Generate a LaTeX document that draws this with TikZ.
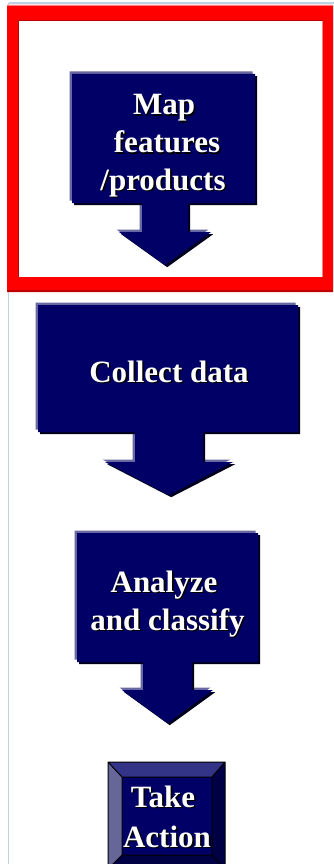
\documentclass[tikz,border=0pt]{standalone}
\usepackage{fontspec}
\setmainfont{Liberation Serif}
\begin{document}
\definecolor{navy}{HTML}{000066}
\definecolor{navylight}{HTML}{6868A2}
\definecolor{navydark}{HTML}{00001E}
\definecolor{bevtop}{HTML}{333388}
\definecolor{bevleft}{HTML}{666699}
\definecolor{bevdark}{HTML}{000044}
\definecolor{frame}{HTML}{FF0000}
\definecolor{framedark}{HTML}{C00000}
\definecolor{framelight}{HTML}{FF8080}
\definecolor{rule}{HTML}{BCD0E6}
% arrow outline: box (#1,#2)-(#3,#4), axis x #5, stem half width #6,
% head half width #7, head top #8, tip #9
\newcommand\boxarrowpath[9]{(#1,#2) -- (#3,#2) -- (#3,#4) -- ({#5+#6},#4) -- ({#5+#6},#8)
  -- ({#5+#7},#8) -- (#5,#9) -- ({#5-#7},#8) -- ({#5-#6},#8) -- ({#5-#6},#4) -- (#1,#4) -- cycle}
\newcommand\boxarrow[9]{%
  \fill[navylight, shift={(-2.5,-2.5)}] \boxarrowpath{#1}{#2}{#3}{#4}{#5}{#6}{#7}{#8}{#9};
  \fill[navydark, shift={(2.2,2.2)}] \boxarrowpath{#1}{#2}{#3}{#4}{#5}{#6}{#7}{#8}{#9};
  \fill[navy] \boxarrowpath{#1}{#2}{#3}{#4}{#5}{#6}{#7}{#8}{#9};}
% white bold label line with a black drop shadow
\newcommand\shline[4]{%
  \node[lbl, black] (#1-sh) at ({#2+1.6},{#3+1.6}) {#4};
  \node[lbl, white] (#1) at (#2,#3) {#4};}
\begin{tikzpicture}[x=1pt, y=-1pt,
  lbl/.style={anchor=base, inner sep=0pt, font=\bfseries\fontsize{31}{37.5}\selectfont}]
\useasboundingbox (0,0) rectangle (334,864);
\fill[white] (0,0) rectangle (334,864);
\begin{scope}
\clip (0,0) rectangle (334,864);
% page rules
\draw[rule, line width=1.2pt] (8.5,3) -- (334,3);
\draw[rule, line width=1.2pt] (8.5,3) -- (8.5,864);

% highlight frame around the first step
\fill[frame, even odd rule] (7,5) rectangle (333,292) (18,20) rectangle (323,277);
\draw[framedark, line width=1.5pt] (18.7,277) -- (18.7,20.7) -- (323,20.7);
\draw[framedark, line width=1.5pt] (7,291.2) -- (333,291.2);
\draw[framelight, line width=1.2pt] (7,5.6) -- (333,5.6);
\draw[framelight, line width=1.2pt] (322.4,21) -- (322.4,277);

% step arrows
\boxarrow{72}{74}{255}{203}{165}{23}{46}{232}{265}
\boxarrow{38}{305}{298}{432}{169}{34}{64}{462}{495}
\boxarrow{77}{533}{258}{662}{167.5}{24.5}{45.5}{690}{723}

\shline{map}{164}{115}{Map}
\shline{features}{167}{153}{features}
\shline{products}{163}{190}{/products}
\shline{collect}{169}{382}{Collect data}
\shline{analyze}{164}{592}{Analyze}
\shline{classify}{167.5}{630}{and classify}

% bevelled button
\fill[bevtop] (108,762) -- (225,762) -- (212,777) -- (122,777) -- cycle;
\fill[bevleft] (108,762) -- (122,777) -- (122,855) -- (108,869) -- cycle;
\fill[bevdark] (225,762) -- (225,869) -- (212,855) -- (212,777) -- cycle;
\fill[bevdark] (108,869) -- (225,869) -- (212,855) -- (122,855) -- cycle;
\fill[navy] (122,777) rectangle (212,855);
\draw[black, line width=1pt] (108,762) rectangle (225,869)
  (122,777) rectangle (212,855)
  (108,762) -- (122,777) (225,762) -- (212,777)
  (108,869) -- (122,855) (225,869) -- (212,855);
\shline{take}{163}{807}{Take}
\shline{action}{167}{847}{Action}
\end{scope}
\end{tikzpicture}
\end{document}
